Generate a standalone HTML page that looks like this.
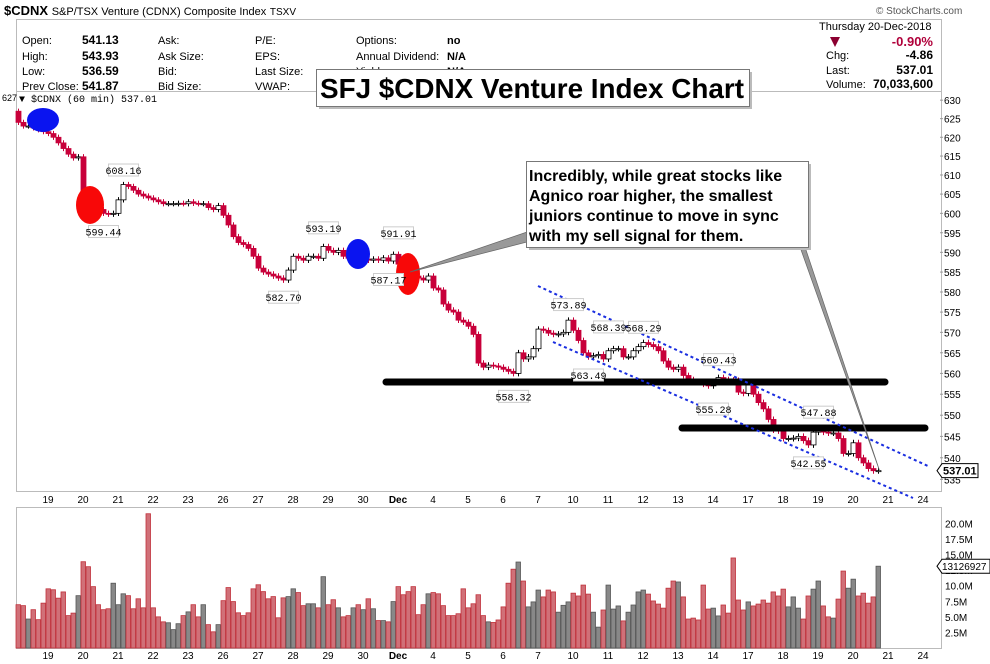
<!DOCTYPE html>
<html><head><meta charset="utf-8"><style>
body{margin:0;background:#fff;}
svg{display:block;font-family:"Liberation Sans",sans-serif;}
</style></head><body>
<svg id="chart" width="990" height="664" viewBox="0 0 990 664">
<g id="static">
  <text x="4" y="15" font-size="13" font-weight="bold">$CDNX <tspan font-weight="normal" font-size="11">S&amp;P/TSX Venture (CDNX) Composite Index</tspan> <tspan font-weight="normal" font-size="10">TSXV</tspan></text>
  <text x="876" y="14" font-size="10" fill="#555">© StockCharts.com</text>
  <rect x="16.5" y="19.5" width="925" height="72" fill="none" stroke="#bbb"/>
  <g font-size="11">
    <text x="22" y="44">Open:</text><text x="82" y="44" font-weight="bold" font-size="12">541.13</text>
    <text x="22" y="60">High:</text><text x="82" y="60" font-weight="bold" font-size="12">543.93</text>
    <text x="22" y="75">Low:</text><text x="82" y="75" font-weight="bold" font-size="12">536.59</text>
    <text x="22" y="90">Prev Close:</text><text x="82" y="90" font-weight="bold" font-size="12">541.87</text>
    <text x="158" y="44">Ask:</text><text x="158" y="60">Ask Size:</text><text x="158" y="75">Bid:</text><text x="158" y="90">Bid Size:</text>
    <text x="255" y="44">P/E:</text><text x="255" y="60">EPS:</text><text x="255" y="75">Last Size:</text><text x="255" y="90">VWAP:</text>
    <text x="356" y="44">Options:</text><text x="356" y="60">Annual Dividend:</text><text x="356" y="75">Yield:</text>
    <text x="447" y="44" font-weight="bold">no</text><text x="447" y="60" font-weight="bold">N/A</text><text x="447" y="75" font-weight="bold">N/A</text>
  </g>
  <g font-size="11">
    <text x="819" y="30">Thursday  20-Dec-2018</text>
    <polygon points="830,37 840,37 835,47" fill="#8b0030"/>
    <text x="933" y="46" text-anchor="end" font-weight="bold" font-size="13" fill="#b0003a">-0.90%</text>
    <text x="826" y="59">Chg:</text><text x="933" y="59" text-anchor="end" font-weight="bold" font-size="12">-4.86</text>
    <text x="826" y="74">Last:</text><text x="933" y="74" text-anchor="end" font-weight="bold" font-size="12">537.01</text>
    <text x="826" y="88">Volume:</text><text x="933" y="88" text-anchor="end" font-weight="bold" font-size="12">70,033,600</text>
  </g>
  <rect x="16.5" y="91.5" width="925" height="400" fill="none" stroke="#bbb"/>
  <rect x="16.5" y="507.5" width="925" height="141" fill="none" stroke="#bbb"/>
  <text x="2" y="101" font-size="9">627</text>
  <text x="19" y="102" font-size="10" font-family="Liberation Mono, monospace">▼ $CDNX (60 min) 537.01</text>
</g>
<g id="axes"></g>
<g id="volumes"></g>
<g id="candles"></g>
<g id="overlay">
  <line x1="386" y1="382" x2="885" y2="382" stroke="#000" stroke-width="7" stroke-linecap="round"/>
  <line x1="682" y1="428" x2="925" y2="428" stroke="#000" stroke-width="7" stroke-linecap="round"/>
  <line x1="538" y1="286" x2="930" y2="467" stroke="#1a2ee0" stroke-width="2" stroke-dasharray="3,3"/>
  <line x1="553" y1="342" x2="913" y2="498" stroke="#1a2ee0" stroke-width="2" stroke-dasharray="3,3"/>
  <ellipse cx="43" cy="120" rx="16" ry="12" fill="#0a14f0"/>
  <ellipse cx="90" cy="205" rx="14" ry="19" fill="#f80808"/>
  <ellipse cx="358" cy="254" rx="12" ry="15" fill="#0a14f0"/>
  <ellipse cx="408" cy="274" rx="12" ry="21" fill="#f80808"/>
  <polygon points="410,272 527,232 527,242" fill="#999" stroke="#666" stroke-width="0.7"/>
  <polygon points="880,472 805,247 800,247" fill="#999" stroke="#666" stroke-width="0.7"/>
  <rect x="529" y="164" width="282" height="86" fill="#bbb"/>
  <rect x="526.5" y="161.5" width="282" height="86" fill="#fff" stroke="#777"/>
  <g font-size="16" font-weight="bold">
    <text x="529" y="181">Incredibly, while great stocks like</text>
    <text x="529" y="201">Agnico roar higher, the smallest</text>
    <text x="529" y="221">juniors continue to move in sync</text>
    <text x="529" y="241">with my sell signal for them.</text>
  </g>
  <rect x="319" y="72" width="433" height="37" fill="#bbb"/>
  <rect x="316.5" y="69.5" width="433" height="37" fill="#fff" stroke="#777"/>
  <text x="320" y="98" font-size="28" font-weight="bold" textLength="424" lengthAdjust="spacingAndGlyphs">SFJ $CDNX Venture Index Chart</text>
</g>
<g id="labels"></g>
</svg>
<script>
// ---- data ----
var closes = [624,623,623,622.5,622,621.5,621,620,618.5,617,615.5,614.5,614.8,605,603,602,601,600,599.8,600,
603.5,607.5,607,606,605,604.5,604,603.5,603,602.5,602.5,602.5,602.6,602.5,603,602.6,602.5,602.5,601.5,601,
602,599.5,597,594,592.5,592,591,589,586,585,584.5,584,583.5,583,585.5,589,588.5,588,589,589,
588.5,591.5,590.5,590,590.5,589,588.5,588.5,588.3,588.3,588,588.3,588,588.6,587.8,589.5,587,585.5,584.5,584,
583.5,583,584,581,580.5,577,575.5,575,573,572.5,571.5,569.5,562.5,561.5,562,561.8,561.5,561,560.5,560,
565,563.5,564,566,570.8,570.5,569.8,569.5,569.6,570,573,570.5,568,565,564,564.3,564.6,563.5,565.5,566,
566,564,564,565.5,566.5,567.5,567,566.5,565.5,563,561.5,561,561.5,559.5,558.5,558,557.8,557.4,557,558,
559,558.5,558.4,558.3,555.5,555.2,557.5,555,553,551.5,549,546.5,546.3,544.5,544.5,544.6,545,544,543,546,
546.5,546,545.8,545.8,544.5,541,541,543.5,540,538.8,537.5,537,537.01];
var firstOpen = 627;
var volumesM = [6.95,6.8,4.65,6.15,4.55,7.2,9.5,9.35,8.0,9.0,5.2,5.6,8.4,13.85,13.05,9.85,6.95,6.15,6.3,10.4,
6.95,8.7,8.4,6.3,7.9,6.45,21.55,6.45,5.0,4.2,4.05,2.95,3.9,5.2,5.8,6.95,5.0,6.95,3.75,2.6,
3.75,7.6,9.7,7.45,5.65,5.2,5.65,9.5,10.15,9.05,7.9,8.25,4.85,8.05,8.25,9.5,8.9,6.8,7.1,7.1,
6.45,11.45,6.95,7.75,6.45,5.0,5.2,6.45,6.95,6.15,7.9,6.3,4.4,4.4,4.2,7.45,9.85,8.55,9.05,9.85,
5.35,6.95,8.7,8.9,8.7,6.8,5.2,5.2,5.5,9.5,6.45,7.1,8.55,5.2,4.2,
4.1,4.5,6.6,10.4,12.65,13.8,10.75,6.6,7.4,9.3,8.2,9.3,9.0,5.75,6.85,7.4,8.8,8.35,10.1,8.65,
5.75,3.35,6.1,10.1,6.25,6.75,4.35,5.75,6.9,9.0,9.3,8.65,7.55,7.05,6.4,9.6,10.75,10.6,8.2,4.65,
4.8,4.5,10.1,6.25,6.4,5.15,6.9,5.6,14.45,7.7,6.1,7.4,6.75,7.05,7.7,7.2,9.0,8.35,9.45,6.6,
8.2,6.4,4.65,8.35,9.45,10.75,6.75,5.0,4.8,7.85,12.35,9.6,11.05,8.35,8.8,7.2,8.2,13.13];
var dayLabels = ["19","20","21","22","23","26","27","28","29","30","Dec","4","5","6","7","10","11","12","13","14","17","18","19","20","21","24"];
var priceTicks = [630,625,620,615,610,605,600,595,590,585,580,575,570,565,560,555,550,545,540,535];
var volTicks = [20,17.5,15,12.5,10,7.5,5,2.5];
var priceCallouts = [[21,608.16,"up"],[17,599.44,"down"],[53,582.70,"down"],[61,593.19,"up"],[76,591.91,"up"],[74,587.17,"down"],
[110,573.89,"up"],[118,568.39,"up"],[125,568.29,"up"],[114,563.49,"down"],[99,558.32,"down"],[140,560.43,"up"],[139,555.28,"down"],[160,547.88,"up"],[158,542.55,"down"]];

// ---- scales ----
var NS="http://www.w3.org/2000/svg";
function xBar(i){return 18.5+5*i;}
function yPrice(p){return 292-2320*Math.log(p/580);}
function yVol(v){return 648-6.23*v;}
function xDay(k){return 48+35*k;}
function mk(tag,attrs,parent){var e=document.createElementNS(NS,tag);for(var k in attrs)e.setAttribute(k,attrs[k]);parent.appendChild(e);return e;}

var axes=document.getElementById('axes');
priceTicks.forEach(function(p){
  var y=yPrice(p);
  var t=mk('text',{x:944,y:y+4,'font-size':10},axes);t.textContent=p;
  
  
  var l=mk('line',{x1:940,x2:943,y1:y,y2:y,stroke:'#999'},axes);
  
  
});
volTicks.forEach(function(v){
  var y=yVol(v);
  var t=mk('text',{x:945,y:y+4,'font-size':10},axes);t.textContent=v.toFixed(1)+'M';
  
  
});
dayLabels.forEach(function(d,k){
  [503,659].forEach(function(yy){
    var t=mk('text',{x:xDay(k),y:yy,'font-size':10,'text-anchor':'middle','font-weight':d==='Dec'?'bold':'normal'},axes);
    t.textContent=d;
    
    
  });
});

var vg=document.getElementById('volumes');
volumesM.forEach(function(v,i){
  var prev=i===0?firstOpen:closes[i-1];
  var down=closes[i]!==undefined && closes[i]<prev;
  var y=yVol(v);
  var r=mk('rect',{x:xBar(i)-2.5,y:y,width:4.5,height:648-y,fill:down?'#d07078':'#888',stroke:down?'#c0303a':'#555','stroke-width':0.8},vg);
  
  
});
var lastV=volumesM[volumesM.length-1], yl=yVol(lastV);
var tagp=mk('polygon',{points:'937,'+yl+' 942,'+(yl-7)+' 990,'+(yl-7)+' 990,'+(yl+7)+' 942,'+(yl+7),fill:'#fff',stroke:'#000'},axes);


var tagv=mk('text',{x:942,y:yl+4,'font-size':10},axes);tagv.textContent='13126927';



var cg=document.getElementById('candles');
closes.forEach(function(c,i){
  var o=i===0?firstOpen:closes[i-1];
  var hi=Math.max(o,c), lo=Math.min(o,c);
  var x=xBar(i);
  var w=mk('line',{x1:x,x2:x,y1:yPrice(hi+0.7),y2:yPrice(lo-0.7),stroke:c<o?'#c8003a':'#000'},cg);
  
  
  var yt=yPrice(hi), yb=yPrice(lo);
  var b=mk('rect',{x:x-2.5,y:yt,width:5,height:Math.max(1,yb-yt),fill:c<o?'#c8003a':'#fff',stroke:c<o?'#c8003a':'#000','stroke-width':0.8},cg);
  
  
});
var lg=document.getElementById('labels');
priceCallouts.forEach(function(pc){
  var x=xBar(pc[0]), y=pc[2]==='up'?yPrice(pc[1])-18:yPrice(pc[1])+10;
  var r=mk('rect',{x:x-15,y:y,width:30,height:12,fill:'#fff',stroke:'#ccc'},lg);
  
  
  var t=mk('text',{x:x,y:y+10,'font-size':10,'text-anchor':'middle','font-family':'Liberation Mono, monospace'},lg);
  t.textContent=pc[1].toFixed(2);
  
  
});
var lastC=closes[closes.length-1], yc=yPrice(lastC);
var tg=mk('polygon',{points:'937,'+yc+' 942,'+(yc-7)+' 978,'+(yc-7)+' 978,'+(yc+7)+' 942,'+(yc+7),fill:'#fff',stroke:'#000'},lg);


var tt=mk('text',{x:943,y:yc+4,'font-size':11,'font-weight':'bold'},lg);tt.textContent=lastC.toFixed(2);


</script>
</body></html>
